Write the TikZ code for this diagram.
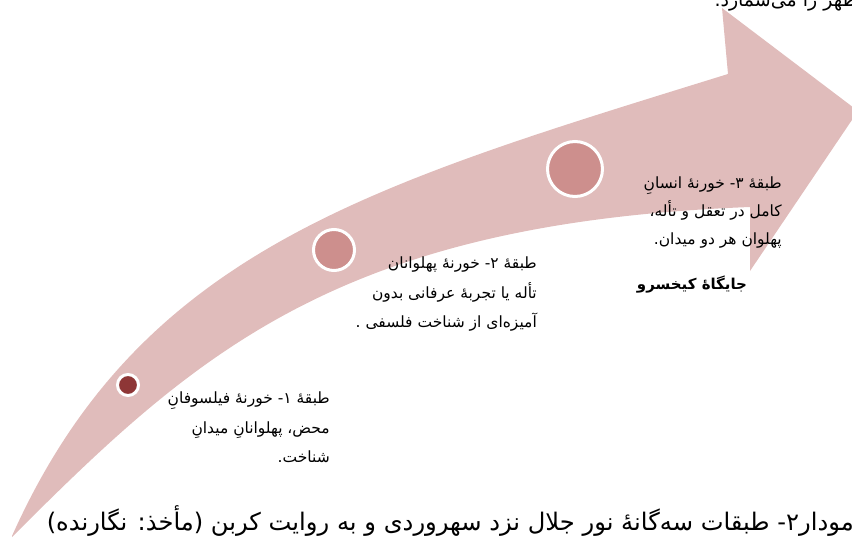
\documentclass[tikz,border=0pt]{standalone}
\usepackage{fontspec}
\newfontfamily\arabicfont[Script=Arabic]{DejaVu Sans}
\TeXXeTstate=1
\definecolor{bandpink}{HTML}{E0BCBB}
\definecolor{dotpink}{HTML}{CD8F8D}
\definecolor{dotred}{HTML}{8E3636}
\newcommand{\rl}[1]{\beginR #1\endR}

\begin{document}
\begin{tikzpicture}[x=1pt,y=-1pt,
  stage/.style={circle, draw=white, line width=3pt, inner sep=0pt},
  note/.style={align=right, inner sep=0pt, font=\arabicfont\fontsize{15.5}{29.5}\selectfont}]
			% Frame
			\useasboundingbox (0,0) rectangle (852,538);
			
			% Arrow band
			\fill [bandpink] (12,536) .. controls (140,250) and (370,185) .. (728,74)
				-- (722,8) -- (858,111) -- (750,271) -- (750,207)
				.. controls (338,223) and (196,353) .. (12,537) -- cycle;
			
			% Stages
			\node [stage, fill=dotred, minimum size=21pt] (dot1) at (128,385) {};
			\node [stage, fill=dotpink, minimum size=41pt] (dot2) at (334,250) {};
			\node [stage, fill=dotpink, minimum size=55pt] (dot3) at (575,169) {};
			
			% Labels
			\node [note, anchor=north east] (level1) at (330,392) {\rl{طبقهٔ ‏۱-  خورنهٔ فیلسوفانِ}\\ \rl{محض، پهلوانانِ میدانِ}\\ \rl{شناخت.}};
			\node [note, anchor=north east] (level2) at (537,257) {\rl{طبقهٔ ‏۲-  خورنهٔ پهلوانان}\\ \rl{تأله یا تجربهٔ عرفانی بدون}\\ \rl{آمیزه‌ای از شناخت فلسفی .}};
			\node [note, anchor=north east, font=\arabicfont\fontsize{15.5}{28}\selectfont] (level3) at (782,177) {\rl{طبقهٔ ‏۳- خورنهٔ انسانِ}\\ \rl{کامل در تعقل و تأله،}\\ \rl{پهلوان هر دو میدان.}};
			\node [note, font=\arabicfont\bfseries\fontsize{15}{29}\selectfont] (place) at (692,285) {\rl{جایگاهٔ کیخسرو}};
			
			% Caption and cut line
			\node [note, anchor=base east, font=\arabicfont\fontsize{24.2}{27}\selectfont] (caption) at (854,530) {\rl{مودار۲- طبقات سه‌گانهٔ نور جلال نزد سهروردی و به روایت کربن (مأخذ: نگارنده)}};
			\node [note, anchor=base east, font=\arabicfont\fontsize{19}{22}\selectfont] (cutline) at (858,6) {\rl{ظهر را می‌شمارد.}};
		\end{tikzpicture}
\end{document}
